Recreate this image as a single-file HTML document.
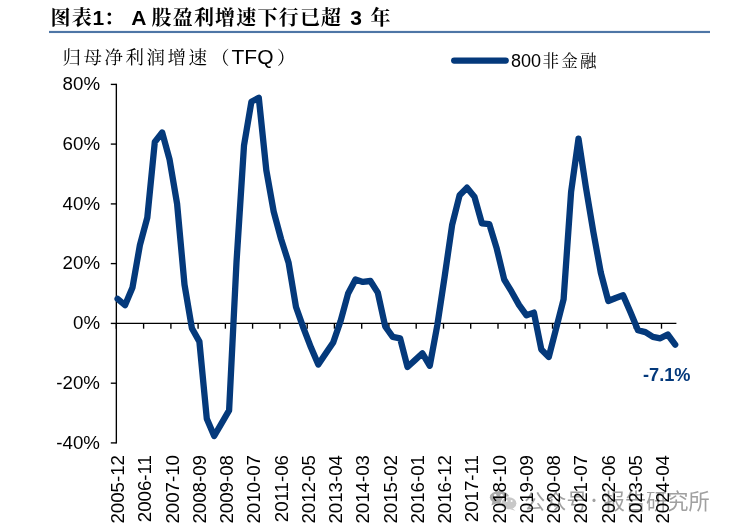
<!DOCTYPE html>
<html lang="zh-CN">
<head>
<meta charset="utf-8">
<title>图表1： A 股盈利增速下行已超 3 年</title>
<style>
html,body{margin:0;padding:0;background:#fff;}
body{width:732px;height:530px;overflow:hidden;position:relative;}
svg{position:absolute;left:0;top:0;display:block;}
.lat{font-family:"Liberation Sans",sans-serif;}
.kai{font-family:"Liberation Sans","Noto Serif CJK SC",serif;}
.hei{font-family:"Liberation Sans","Noto Sans CJK SC",sans-serif;}
</style>
</head>
<body>
<svg width="732" height="530" viewBox="0 0 732 530">
<rect width="732" height="530" fill="#ffffff"/>
<text class="kai" y="24.6" font-size="20" font-weight="bold" fill="#000"><tspan x="50.5" letter-spacing="1.3">图表</tspan><tspan x="92.5" font-size="21">1</tspan><tspan x="104">：</tspan><tspan x="125.5" font-size="21"> A </tspan><tspan x="151.5" letter-spacing="1.2">股盈利增速下行已超</tspan><tspan x="344.5" font-size="21"> 3 </tspan><tspan x="370.5">年</tspan></text>
<rect x="49" y="30.9" width="661" height="2.15" fill="#4e76a6"/>
<text class="kai" y="64.2" font-size="18.5" fill="#000"><tspan x="62.5" letter-spacing="2.5">归母净利润增速</tspan><tspan x="211">（</tspan><tspan x="231.5" font-size="21">TFQ</tspan><tspan x="277">）</tspan></text>
<line x1="454.2" y1="60.55" x2="505.7" y2="60.55" stroke="#04397b" stroke-width="6.3" stroke-linecap="round"/>
<text class="kai" y="66.5" font-size="16.5" fill="#000"><tspan x="511" font-size="18">800</tspan><tspan x="542.5" letter-spacing="2.2">非金融</tspan></text>
<g stroke="#000" stroke-width="1.35" fill="none">
<line x1="116.35" y1="83.8" x2="116.35" y2="443.5"/>
<line x1="110.8" y1="442.9" x2="116.35" y2="442.9"/>
<line x1="110.8" y1="383.2" x2="116.35" y2="383.2"/>
<line x1="110.8" y1="323.4" x2="116.35" y2="323.4"/>
<line x1="110.8" y1="263.6" x2="116.35" y2="263.6"/>
<line x1="110.8" y1="203.9" x2="116.35" y2="203.9"/>
<line x1="110.8" y1="144.1" x2="116.35" y2="144.1"/>
<line x1="110.8" y1="84.4" x2="116.35" y2="84.4"/>
<line x1="116.35" y1="323.4" x2="676.4" y2="323.4"/>
<line x1="116.3" y1="323.4" x2="116.3" y2="328.7"/>
<line x1="143.6" y1="323.4" x2="143.6" y2="328.7"/>
<line x1="170.9" y1="323.4" x2="170.9" y2="328.7"/>
<line x1="198.1" y1="323.4" x2="198.1" y2="328.7"/>
<line x1="225.4" y1="323.4" x2="225.4" y2="328.7"/>
<line x1="252.6" y1="323.4" x2="252.6" y2="328.7"/>
<line x1="279.9" y1="323.4" x2="279.9" y2="328.7"/>
<line x1="307.2" y1="323.4" x2="307.2" y2="328.7"/>
<line x1="334.4" y1="323.4" x2="334.4" y2="328.7"/>
<line x1="361.7" y1="323.4" x2="361.7" y2="328.7"/>
<line x1="388.9" y1="323.4" x2="388.9" y2="328.7"/>
<line x1="416.2" y1="323.4" x2="416.2" y2="328.7"/>
<line x1="443.5" y1="323.4" x2="443.5" y2="328.7"/>
<line x1="470.7" y1="323.4" x2="470.7" y2="328.7"/>
<line x1="498.0" y1="323.4" x2="498.0" y2="328.7"/>
<line x1="525.2" y1="323.4" x2="525.2" y2="328.7"/>
<line x1="552.5" y1="323.4" x2="552.5" y2="328.7"/>
<line x1="579.8" y1="323.4" x2="579.8" y2="328.7"/>
<line x1="607.0" y1="323.4" x2="607.0" y2="328.7"/>
<line x1="634.3" y1="323.4" x2="634.3" y2="328.7"/>
<line x1="661.5" y1="323.4" x2="661.5" y2="328.7"/>
</g>
<g class="lat" font-size="18.7" fill="#000" text-anchor="end">
<text x="100" y="448.6">-40%</text>
<text x="100" y="388.9">-20%</text>
<text x="100" y="329.1">0%</text>
<text x="100" y="269.3">20%</text>
<text x="100" y="209.6">40%</text>
<text x="100" y="149.8">60%</text>
<text x="100" y="90.1">80%</text>
</g>
<g>
<ellipse cx="499.4" cy="497.3" rx="9.6" ry="6.3" fill="#ababab"/>
<path d="M492.6 501.2 L491.4 505.6 L496.6 503.2 Z" fill="#ababab"/>
<ellipse cx="508.9" cy="503.2" rx="8.4" ry="6.9" fill="#ffffff"/>
<ellipse cx="508.9" cy="503.2" rx="7.5" ry="6" fill="#c8c8c8"/>
<path d="M512.2 508 L515.4 510.8 L510.2 509.2 Z" fill="#c8c8c8"/>
<g fill="#ffffff">
<circle cx="495.2" cy="495.3" r="1.2"/><circle cx="501.6" cy="495.3" r="1.2"/>
<circle cx="506.6" cy="501" r="1"/><circle cx="511.6" cy="501" r="1"/>
</g>
<text class="hei" y="508.8" font-size="21.2" fill="#a0a0a0"><tspan x="524">公众号</tspan><tspan x="586.5" dy="-2.8" font-size="15" font-family="Noto Sans CJK SC, sans-serif">·</tspan><tspan x="603.7" dy="2.8">报告研究所</tspan></text>
</g>
<g class="lat" font-size="18.7" fill="#000" text-anchor="end">
<text transform="translate(124.0,455) rotate(-90)">2005-12</text>
<text transform="translate(151.2,455) rotate(-90)">2006-11</text>
<text transform="translate(178.5,455) rotate(-90)">2007-10</text>
<text transform="translate(205.8,455) rotate(-90)">2008-09</text>
<text transform="translate(233.0,455) rotate(-90)">2009-08</text>
<text transform="translate(260.3,455) rotate(-90)">2010-07</text>
<text transform="translate(287.5,455) rotate(-90)">2011-06</text>
<text transform="translate(314.8,455) rotate(-90)">2012-05</text>
<text transform="translate(342.1,455) rotate(-90)">2013-04</text>
<text transform="translate(369.3,455) rotate(-90)">2014-03</text>
<text transform="translate(396.6,455) rotate(-90)">2015-02</text>
<text transform="translate(423.8,455) rotate(-90)">2016-01</text>
<text transform="translate(451.1,455) rotate(-90)">2016-12</text>
<text transform="translate(478.4,455) rotate(-90)">2017-11</text>
<text transform="translate(505.6,455) rotate(-90)">2018-10</text>
<text transform="translate(532.9,455) rotate(-90)">2019-09</text>
<text transform="translate(560.1,455) rotate(-90)">2020-08</text>
<text transform="translate(587.4,455) rotate(-90)">2021-07</text>
<text transform="translate(614.7,455) rotate(-90)">2022-06</text>
<text transform="translate(641.9,455) rotate(-90)">2023-05</text>
<text transform="translate(669.2,455) rotate(-90)">2024-04</text>
</g>
<polyline points="117.6,298.9 125.0,305.2 132.5,287.5 139.9,245.1 147.3,217.6 154.8,142.0 162.2,132.5 169.6,159.7 177.1,203.9 184.5,284.6 191.9,328.2 199.4,341.6 206.8,418.7 214.2,436.0 221.7,423.2 229.1,410.4 236.5,262.1 244.0,145.6 251.4,101.7 258.8,97.8 266.3,170.1 273.7,211.6 281.1,239.1 288.6,262.7 296.0,307.0 303.4,327.9 310.9,347.3 318.3,364.6 325.7,353.6 333.2,342.5 340.6,321.0 348.1,293.5 355.5,279.5 362.9,281.9 370.4,281.0 377.8,292.6 385.2,326.4 392.7,336.8 400.1,338.3 407.5,367.0 415.0,360.2 422.4,353.3 429.8,365.8 437.3,325.2 444.7,276.2 452.1,225.1 459.6,195.2 467.0,187.7 474.4,196.7 481.9,223.3 489.3,224.2 496.7,248.4 504.2,279.5 511.6,291.7 519.0,304.9 526.5,315.3 533.9,312.6 541.3,349.4 548.8,356.9 556.2,328.2 563.6,299.2 571.1,191.9 578.5,138.7 585.9,187.4 593.4,232.3 600.8,272.6 608.3,301.0 615.7,298.0 623.1,295.3 630.6,312.6 638.0,330.3 645.4,332.1 652.9,336.8 660.3,338.3 667.7,334.5 675.2,344.6" fill="none" stroke="#04397b" stroke-width="6.3" stroke-linejoin="round" stroke-linecap="round"/>
<text class="lat" x="666.8" y="381" font-size="18.2" font-weight="bold" fill="#04397b" text-anchor="middle">-7.1%</text>
</svg>
</body>
</html>
